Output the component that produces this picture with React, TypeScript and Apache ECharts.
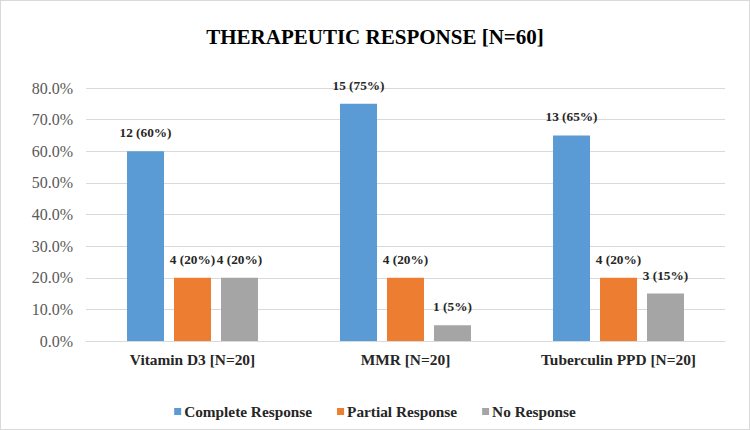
import React, { useEffect, useRef } from "react";
import * as echarts from "echarts";

const categories = ["Vitamin D3 [N=20]", "MMR [N=20]", "Tuberculin PPD [N=20]"];
const seriesNames = ["Complete Response", "Partial Response", "No Response"];
const completePct = [60, 75, 65];
const partialPct = [20, 20, 20];
const nonePct = [20, 5, 15];
const completeN = [12, 15, 13];
const partialN = [4, 4, 4];
const noneN = [4, 1, 3];
const colors = ["#5B9BD5", "#ED7D31", "#A5A5A5"];

const FONT = "Liberation Serif";

export default function App() {
  const ref = useRef<HTMLDivElement>(null);
  useEffect(() => {
    document.body.style.margin = "0";
    if (!ref.current) return;
    const chart = echarts.init(ref.current, undefined, { renderer: "svg" });
    const pcts = [completePct, partialPct, nonePct];
    const counts = [completeN, partialN, noneN];
    chart.setOption({
      animation: false,
      textStyle: { fontFamily: FONT },
      title: {
        text: "THERAPEUTIC RESPONSE [N=60]",
        left: "center",
        top: 20,
        textStyle: { fontFamily: FONT, fontWeight: "bold", fontSize: 21, color: "#000" },
      },
      grid: { left: 85, right: 24, top: 87, bottom: 88 },
      legend: {
        top: 398,
        left: "center",
        itemWidth: 7,
        itemHeight: 7,
        itemGap: 25,
        icon: "rect",
        textStyle: {
          fontFamily: FONT,
          fontWeight: "bold",
          fontSize: 15.3,
          color: "#262626",
          padding: [0, 0, 0, -2],
        },
        data: seriesNames,
      },
      xAxis: {
        type: "category",
        data: categories,
        axisLine: { lineStyle: { color: "#D9D9D9" } },
        axisTick: { show: false },
        axisLabel: { fontFamily: FONT, fontWeight: "bold", fontSize: 15.4, color: "#262626", margin: 11 },
      },
      yAxis: {
        type: "value",
        min: 0,
        max: 80,
        interval: 10,
        axisLine: { show: false },
        axisTick: { show: false },
        splitLine: { lineStyle: { color: "#D9D9D9" } },
        axisLabel: {
          fontFamily: FONT,
          fontSize: 16,
          color: "#595959",
          margin: 13,
          formatter: (v: number) => v.toFixed(1) + "%",
        },
      },
      series: seriesNames.map((name, si) => ({
        name,
        type: "bar",
        barWidth: 37,
        barGap: "27%",
        itemStyle: { color: colors[si] },
        data: pcts[si],
        label: {
          show: true,
          position: "top",
          distance: 12,
          fontFamily: FONT,
          fontWeight: "bold",
          fontSize: 13.3,
          color: "#262626",
          formatter: (p: any) => `${counts[si][p.dataIndex]} (${p.value}%)`,
        },
      })),
    });
    return () => chart.dispose();
  }, []);
  return (
    <div
      style={{
        width: 750,
        height: 430,
        boxSizing: "border-box",
        border: "1px solid #D9D9D9",
        position: "relative",
      }}
    >
      <div ref={ref} style={{ width: 748, height: 428 }} />
    </div>
  );
}
